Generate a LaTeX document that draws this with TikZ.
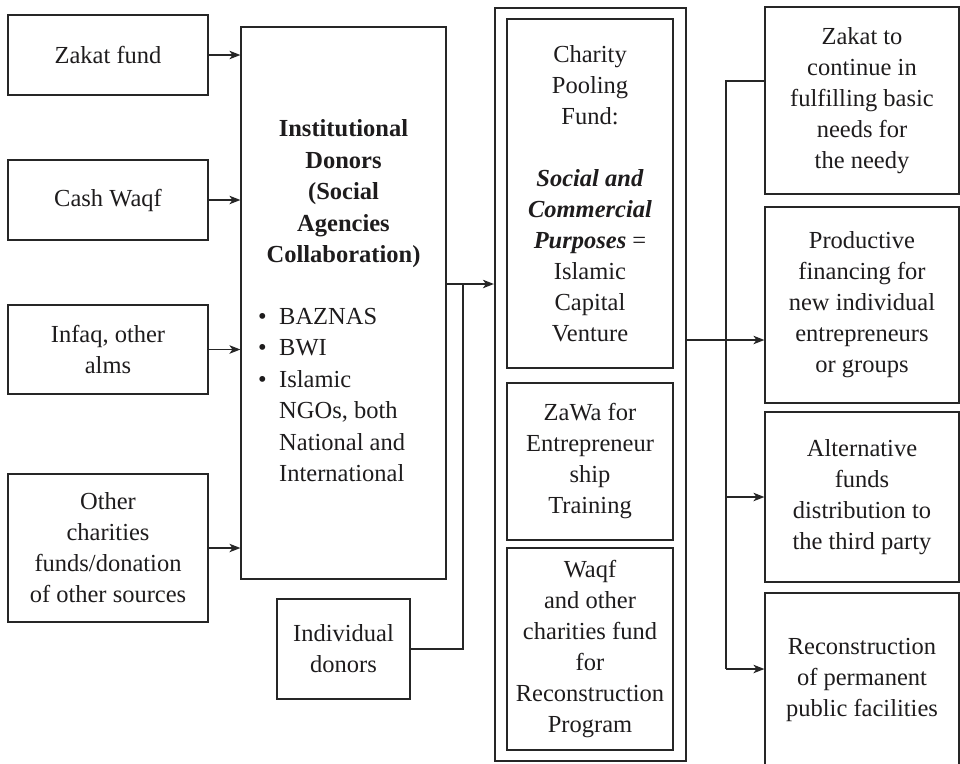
\documentclass[tikz,border=0pt]{standalone}
\usepackage{fontspec}
\setmainfont{Liberation Serif}
\usetikzlibrary{arrows.meta}
\definecolor{ink}{HTML}{1E1C1D}
\definecolor{rule}{HTML}{262626}
\begin{document}
\begin{tikzpicture}[x=1pt,y=-1pt,
  every node/.style={text=ink, inner sep=0pt, font=\fontsize{24.5}{31}\selectfont},
  box/.style={draw=rule, line width=1.2pt, align=center},
  arr/.style={draw=rule, line width=1.2pt, -{Stealth[length=11pt,width=8.5pt,inset=3pt]}},
  link/.style={draw=rule, line width=1.2pt}]
\useasboundingbox (0,0) rectangle (960,763);

% sources
\node[box, minimum width=200pt, minimum height=80pt]  (zakat) at (108,55)    {Zakat fund};
\node[box, minimum width=200pt, minimum height=80pt]  (cash)  at (108,200)   {Cash Waqf};
\node[box, minimum width=200pt, minimum height=89pt]  (infaq) at (108,349.5) {Infaq, other\\alms};
\node[box, minimum width=200pt, minimum height=148pt] (other) at (108,548)   {Other\\charities\\funds/donation\\of other sources};

% institutional donors
\node[box, minimum width=205pt, minimum height=552pt] (inst) at (343.5,303) {};
\node[align=center, font=\fontsize{24.5}{31.5}\selectfont\bfseries] (insttitle) at (343.5,194)
  {Institutional\\Donors\\(Social\\Agencies\\Collaboration)};
\node[align=left, anchor=west, font=\fontsize{24.5}{31.5}\selectfont] (instlist) at (258,395)
  {\makebox[21pt][l]{\textbullet}BAZNAS\\
   \makebox[21pt][l]{\textbullet}BWI\\
   \makebox[21pt][l]{\textbullet}Islamic\\
   \hspace*{21pt}NGOs, both\\
   \hspace*{21pt}National and\\
   \hspace*{21pt}International};

\node[box, minimum width=133pt, minimum height=100pt] (indiv) at (343.5,649) {Individual\\donors};

% charity pooling fund
\node[draw=rule, line width=2.2pt, minimum width=191pt, minimum height=753pt] (outer) at (590.5,384.5) {};
\node[box, minimum width=166pt, minimum height=349pt] (pool) at (590,193.5)
  {Charity\\Pooling\\Fund:\\[31pt]
   \textbf{\textit{Social and}}\\
   \textbf{\textit{Commercial}}\\
   \textbf{\textit{Purposes}} =\\
   Islamic\\Capital\\Venture};
\node[box, minimum width=166pt, minimum height=157pt] (zawa) at (590,461.5)
  {ZaWa for\\Entrepreneur\\ship\\Training};
\node[box, minimum width=166pt, minimum height=202pt] (waqf) at (590,649)
  {Waqf\\and other\\charities fund\\for\\Reconstruction\\Program};

% uses
\node[box, minimum width=194pt, minimum height=187pt] (r1) at (862,100.5)
  {Zakat to\\continue in\\fulfilling basic\\needs for\\the needy};
\node[box, minimum width=194pt, minimum height=196pt] (r2) at (862,305)
  {Productive\\financing for\\new individual\\entrepreneurs\\or groups};
\node[box, minimum width=194pt, minimum height=170pt] (r3) at (862,497)
  {Alternative\\funds\\distribution to\\the third party};
\node[box, minimum width=194pt, minimum height=173pt] (r4) at (862,679.5)
  {Reconstruction\\of permanent\\public facilities};

% inflows
\draw[arr] (zakat.east) -- (zakat.east -| inst.west);
\draw[arr] (cash.east)  -- (cash.east -| inst.west);
\draw[arr] (infaq.east) -- (infaq.east -| inst.west);
\draw[arr] (other.east) -- (other.east -| inst.west);

\coordinate (hub) at (463,284);
\draw[arr] (hub -| inst.east) -- (hub -| outer.west);
\draw[link] (indiv.east) -| (hub);

% outflows
\coordinate (out) at (726,340);
\coordinate (top) at (726,81);
\coordinate (bus) at (726,669);
\draw[arr] (out -| outer.east) -- (out -| r2.west);
\draw[link] (top -| r1.west) -- (top) -- (bus);
\draw[arr] (top |- r3.west) -- (r3.west);
\draw[arr] (bus) -- (bus -| r4.west);
\end{tikzpicture}
\end{document}
